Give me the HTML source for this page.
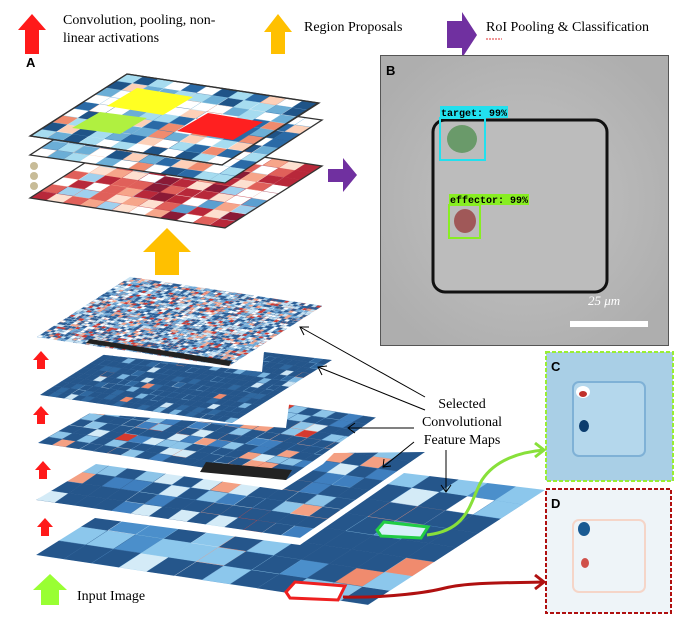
<!DOCTYPE html>
<html><head><meta charset="utf-8"><style>
html,body{margin:0;padding:0;background:#fff;}
svg{display:block}
text{font-family:"Liberation Serif",serif;}
</style></head><body>
<svg id="s" width="686" height="625" viewBox="0 0 686 625" xmlns="http://www.w3.org/2000/svg">
<defs>
<clipPath id="cB"><rect x="380" y="55" width="288" height="290"/></clipPath>
<radialGradient id="gB" cx="50%" cy="50%" r="60%"><stop offset="0" stop-color="#c4c4c4"/><stop offset="1" stop-color="#aeaeae"/></radialGradient>
</defs>
<!-- legend -->
<polygon points="32,14 46,30 39,30 39,54 25,54 25,30 18,30" fill="#ff1a1a"/>
<text x="63" y="24" font-size="14">Convolution,  pooling,  non-</text>
<text x="63" y="42" font-size="14">linear  activations</text>
<polygon points="278,14 292,32 285,32 285,54 271,54 271,32 264,32" fill="#ffc000"/>
<text x="304" y="31" font-size="14">Region  Proposals</text>
<polygon points="447,21 462,21 462,12 477,35 462,58 462,48 447,48" fill="#7030a0"/>
<text x="486" y="31" font-size="14">RoI Pooling  &amp; Classification</text>
<line x1="486" y1="39" x2="502" y2="39" stroke="#e03030" stroke-width="1" stroke-dasharray="2,1"/>
<text x="26" y="67" font-size="13" font-weight="bold" style="font-family:'Liberation Sans',sans-serif">A</text>

<g id="top"></g>
<circle cx="34" cy="166" r="4" fill="#c8bc98"/><circle cx="34" cy="176" r="4" fill="#c8bc98"/><circle cx="34" cy="186" r="4" fill="#c8bc98"/>
<polygon points="328,169 343,169 343,158 357,175 343,192 343,182 328,182" fill="#7030a0"/>
<polygon points="167,228 191,252 179,252 179,275 155,275 155,252 143,252" fill="#ffc000"/>

<g id="low"></g>

<!-- small red arrows -->
<g fill="#ff1a1a">
<polygon points="41,351 49,360 45,360 45,369 37,369 37,360 33,360"/>
<polygon points="41,406 49,415 45,415 45,424 37,424 37,415 33,415"/>
<polygon points="43,461 51,470 47,470 47,479 39,479 39,470 35,470"/>
<polygon points="45,518 53,527 49,527 49,536 41,536 41,527 37,527"/>
</g>
<polygon points="50,574 67,590 59,590 59,605 41,605 41,590 33,590" fill="#99ff33"/>
<text x="77" y="600" font-size="14">Input  Image</text>

<!-- panel B -->
<g clip-path="url(#cB)">
<rect x="380" y="55" width="288" height="290" fill="url(#gB)"/>
<rect x="433" y="120" width="174" height="172" rx="12" fill="#bcbcbc" stroke="#111" stroke-width="3"/>
<ellipse cx="462" cy="139" rx="15" ry="14" fill="#6a9a6a"/>
<rect x="440" y="118" width="45" height="42" fill="none" stroke="#22e0ee" stroke-width="2"/>
<rect x="440" y="106" width="68" height="12" fill="#22e0ee"/>
<text x="441" y="116" font-size="10" font-weight="bold" style="font-family:'Liberation Mono',monospace">target: 99%</text>
<ellipse cx="465" cy="221" rx="11" ry="12" fill="#a05858"/>
<rect x="449" y="205" width="31" height="33" fill="none" stroke="#88ee22" stroke-width="2"/>
<rect x="449" y="194" width="80" height="11" fill="#88ee22"/>
<text x="450" y="203" font-size="10" font-weight="bold" style="font-family:'Liberation Mono',monospace">effector: 99%</text>
<text x="588" y="305" font-size="13" fill="#fff" font-style="italic">25 μm</text>
<rect x="570" y="321" width="78" height="6" fill="#fff"/>
</g>
<rect x="380.5" y="55.5" width="288" height="290" fill="none" stroke="#555" stroke-width="1"/>
<text x="386" y="75" font-size="13" font-weight="bold" style="font-family:'Liberation Sans',sans-serif">B</text>

<!-- panel C -->
<rect x="546" y="352" width="127" height="129" fill="#a9cfe6" stroke="#99ee33" stroke-width="2" stroke-dasharray="4,2"/>
<rect x="573" y="382" width="72" height="74" rx="6" fill="#b4d7ec" stroke="#7fb1d6" stroke-width="2"/>
<ellipse cx="583" cy="392" rx="7" ry="6" fill="#fff"/><ellipse cx="583" cy="394" rx="4" ry="3" fill="#c0302a"/>
<ellipse cx="584" cy="426" rx="5" ry="6" fill="#0b3c6e"/>
<text x="551" y="371" font-size="13" font-weight="bold" style="font-family:'Liberation Sans',sans-serif">C</text>
<!-- panel D -->
<rect x="546" y="489" width="125" height="124" fill="#eef4f8" stroke="#b01010" stroke-width="2" stroke-dasharray="4,2"/>
<rect x="573" y="520" width="72" height="72" rx="6" fill="none" stroke="#f5d5c8" stroke-width="2"/>
<ellipse cx="584" cy="529" rx="6" ry="7" fill="#1a5a92"/>
<ellipse cx="585" cy="563" rx="4" ry="5" fill="#d0504a"/>
<text x="551" y="508" font-size="13" font-weight="bold" style="font-family:'Liberation Sans',sans-serif">D</text>

<!-- labels & connectors -->
<text x="462" y="408" font-size="14" text-anchor="middle">Selected</text>
<text x="462" y="426" font-size="14" text-anchor="middle">Convolutional</text>
<text x="462" y="444" font-size="14" text-anchor="middle">Feature Maps</text>
<g stroke="#000" stroke-width="1" fill="none">
<line x1="425" y1="397" x2="300" y2="327"/><polyline points="304,335 300,327 309,327"/>
<line x1="425" y1="410" x2="318" y2="367"/><polyline points="322,375 318,367 327,366"/>
<line x1="414" y1="428" x2="348" y2="428"/><polyline points="355,423 348,428 355,433"/>
<line x1="414" y1="442" x2="383" y2="467"/><polyline points="384,459 383,467 391,466"/>
<line x1="446" y1="450" x2="446" y2="492"/><polyline points="441,485 446,492 451,485"/>
</g>
<path d="M427,535 C470,530 470,500 482,480 C495,460 520,452 544,450" stroke="#88e03a" stroke-width="3" fill="none"/>
<polyline points="535,443 544,450 535,457" stroke="#88e03a" stroke-width="3" fill="none"/>
<path d="M343,597 C390,598 430,592 445,588 C470,582 510,583 544,582" stroke="#b01010" stroke-width="3" fill="none"/>
<polyline points="535,575 544,582 535,589" stroke="#b01010" stroke-width="3" fill="none"/>
</svg>
<script>
(function(){
var NS="http://www.w3.org/2000/svg";
var seed=7;function rnd(){seed=(seed*16807)%2147483647;return seed/2147483647;}
function pick(p){var r=rnd(),a=0;for(var i=0;i<p.length;i++){a+=p[i][1];if(r<a)return p[i][0];}return p[p.length-1][0];}
function el(n,at,par){var e=document.createElementNS(NS,n);for(var k in at)e.setAttribute(k,at[k]);par.appendChild(e);return e;}
var idc=0;
function layer(par,L,u,v,nu,nv,pal,clip,border){
  var g=el("g",{},par);
  if(clip){var id="cl"+(idc++);var cp=el("clipPath",{id:id},document.querySelector("defs"));el("polygon",{points:clip},cp);g.setAttribute("clip-path","url(#"+id+")");}
  for(var i=0;i<nu;i++)for(var j=0;j<nv;j++){
    var a=i/nu,b=(i+1)/nu,c=j/nv,d=(j+1)/nv;
    function P(x,y){return (L[0]+u[0]*x+v[0]*y).toFixed(1)+","+(L[1]+u[1]*x+v[1]*y).toFixed(1);}
    el("polygon",{points:P(a,c)+" "+P(b,c)+" "+P(b,d)+" "+P(a,d),fill:pick(pal),stroke:pick(pal),"stroke-width":0.3},g);
  }
  if(border){el("polygon",{points:L.join(",")+" "+(L[0]+u[0])+","+(L[1]+u[1])+" "+(L[0]+u[0]+v[0])+","+(L[1]+u[1]+v[1])+" "+(L[0]+v[0])+","+(L[1]+v[1]),fill:"none",stroke:"#333","stroke-width":1.3},par);}
}
var top=document.getElementById("top");
var blues=[["#2a6aa6",.15],["#6baed6",.2],["#a6dcf0",.22],["#ffffff",.2],["#1f5488",.08],["#fdd0b8",.08],["#f08b6e",.07]];
var reds=[["#b8283a",.25],["#e0605a",.2],["#f6a58a",.15],["#fde0d0",.12],["#ffffff",.08],["#8a1a36",.1],["#9fd0ee",.05],["#5b9fd0",.05]];
layer(top,[30,198],[195,30],[97,-62],12,9,reds,null,true);
layer(top,[30,155],[195,28],[97,-63],12,9,blues,null,true);
layer(top,[30,136],[192,29],[97,-62],12,9,blues,null,true);
el("polygon",{points:"107,106 137,88 193,97 163,115",fill:"#ffff22"},top);
el("polygon",{points:"72,128 100,112 147,118 120,134",fill:"#b0f040"},top);
el("polygon",{points:"177,131 208,113 263,122 233,140",fill:"#ff2020"},top);
el("polygon",{points:"30.5,136 127,74 318,103 222,165",fill:"none",stroke:"#333","stroke-width":1.3},top);
var low=document.getElementById("low");
var noisy=[["#2a5d95",.3],["#6fa8d6",.2],["#c8e3f3",.2],["#ffffff",.12],["#f3a48c",.1],["#d03a33",.08]];
var dark=[["#25568b",.8],["#2f68a0",.1],["#7bb6e0",.05],["#cde6f5",.03],["#f08b6e",.02]];
var mid=[["#25568b",.6],["#3f7fbf",.12],["#8cc4e8",.12],["#d4ebf7",.08],["#f4a083",.06],["#d63a2e",.02]];
var big=[["#25568b",.45],["#4b8fcb",.2],["#8cc7ec",.2],["#d4ebf7",.07],["#f08b6e",.05],["#ffffff",.03]];
layer(low,[36,555],[332,50],[177,-115],12,8,big,"36,555 95,518 300,545 404,473 545,490 368,605");
layer(low,[36,500],[264,38],[125,-86],14,9,mid,"36,500 96,464 282,490 323,464 334,453 425,452 300,538");
layer(low,[38,443],[248,37],[105,-60],18,10,mid,"38,443 71,412 286,428 290,397 391,407 286,480");
el("polygon",{points:"200,472 286,480 292,470 206,462",fill:"#222"},low);
layer(low,[40,395],[192,28],[100,-63],24,14,dark,"40,395 96,354 262,372 264,352 332,360 232,423");
layer(low,[37,337],[192,29],[93,-60],48,32,noisy,null);
el("polygon",{points:"86,343 229,366 232,361 90,339",fill:"#222"},low);
el("polygon",{points:"377,530 384,522 428,527 421,538 381,536",fill:"#d8f0fa",stroke:"#22cc44","stroke-width":3},low);
el("polygon",{points:"286,592 295,582 345,586 338,600 290,598",fill:"#fff",stroke:"#ee2020","stroke-width":3},low);
})();
</script>
</body></html>
